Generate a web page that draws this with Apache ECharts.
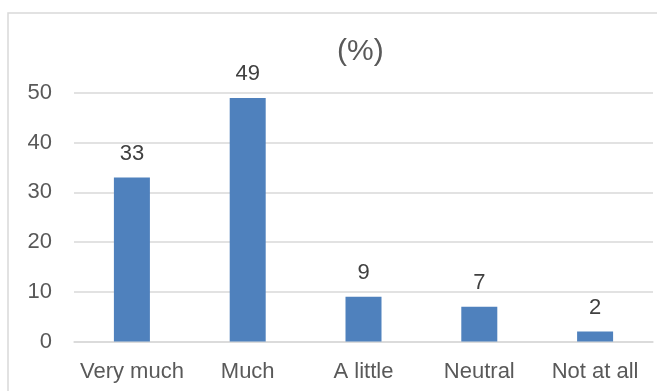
<!DOCTYPE html>
<html>
<head>
<meta charset="utf-8">
<style>
  html, body { margin: 0; padding: 0; background: #fff; }
  #chart { width: 657px; height: 391px; }
</style>
<script src="https://cdn.jsdelivr.net/npm/echarts@6/dist/echarts.min.js"></script>
</head>
<body>
<div id="chart"></div>
<script>
// Survey response shares, in percent
const categories = ['Very much', 'Much', 'A little', 'Neutral', 'Not at all'];
const percentValues = [33, 49, 9, 7, 2];
const yTicks = [0, 10, 20, 30, 40, 50];

const textColor = '#595959';
const fontFamily = '"Liberation Sans", Arial, sans-serif';

const chart = echarts.init(document.getElementById('chart'), null, { renderer: 'canvas' });
chart.setOption({
  animation: false,
  backgroundColor: '#ffffff',
  title: {
    text: '(%)',
    left: 332,
    top: 32,
    textStyle: { color: textColor, fontSize: 30, fontWeight: 'normal', fontFamily: fontFamily }
  },
  graphic: [{
    type: 'rect',
    shape: { x: 8, y: 13, width: 680, height: 420 },
    style: { fill: 'none', stroke: '#d9d9d9', lineWidth: 1.5 },
    silent: true
  }],
  grid: { left: 74, right: 4, top: 93, bottom: 49.5, containLabel: false },
  xAxis: {
    type: 'category',
    data: categories,
    axisLine: { show: true, lineStyle: { color: '#d9d9d9', width: 1.5 } },
    axisTick: { show: false },
    axisLabel: { color: textColor, fontSize: 22, fontFamily: fontFamily, margin: 19, interval: 0 }
  },
  yAxis: {
    type: 'value',
    min: yTicks[0],
    max: yTicks[yTicks.length - 1],
    interval: yTicks[1] - yTicks[0],
    axisLine: { show: false },
    axisTick: { show: false },
    axisLabel: { color: textColor, fontSize: 22, fontFamily: fontFamily, margin: 22 },
    splitLine: { show: true, lineStyle: { color: '#d9d9d9', width: 1.5 } }
  },
  series: [{
    type: 'bar',
    data: percentValues,
    barWidth: 36,
    itemStyle: { color: '#4f81bd' },
    label: {
      show: true,
      position: 'top',
      distance: 13,
      color: '#404040',
      fontSize: 22,
      fontFamily: fontFamily
    }
  }]
});
</script>
</body>
</html>
